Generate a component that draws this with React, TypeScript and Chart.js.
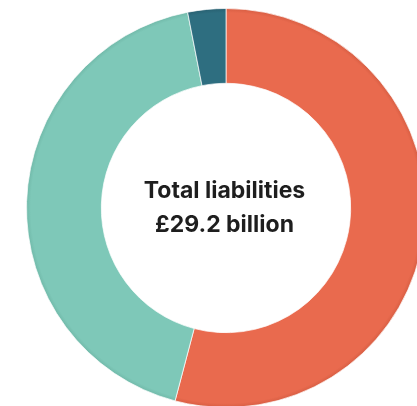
import React, { useEffect, useRef } from "react";
import { Chart, registerables } from "chart.js";

Chart.register(...registerables);

const categories = ["Category A", "Category B", "Category C"];
const values = [15.8, 12.5, 0.9];
const colors = ["#E96A4E", "#7EC8B8", "#2E6E80"];
const shadeColors = ["#D65D42", "#70B8A8", "#285F70"];
const centerLines = ["Total liabilities", "£29.2 billion"];

const centerText = {
  id: "centerText",
  afterDraw(chart: any) {
    const meta = chart.getDatasetMeta(0);
    const arc = meta.data[0];
    if (!arc) return;
    const { x, y } = arc;
    const ctx = chart.ctx;
    ctx.save();
    ctx.fillStyle = "#1E1E1E";
    ctx.font = "bold 23px Inter, 'Liberation Sans', Arial, sans-serif";
    ctx.textAlign = "center";
    ctx.textBaseline = "alphabetic";
    ctx.fillText(centerLines[0], x - 1.5, y - 10);
    ctx.fillText(centerLines[1], x - 1.5, y + 24);
    ctx.restore();
  },
};

export default function App() {
  const ref = useRef<HTMLCanvasElement>(null);
  useEffect(() => {
    if (!ref.current) return;
    const chart = new Chart(ref.current, {
      type: "doughnut",
      data: {
        labels: categories,
        datasets: [
          {
            data: values,
            backgroundColor: (c: any) => {
              const i = c.dataIndex;
              const chartArea = c.chart.chartArea;
              if (!chartArea) return colors[i];
              const cx = (chartArea.left + chartArea.right) / 2;
              const cy = (chartArea.top + chartArea.bottom) / 2;
              const r = Math.min(chartArea.right - chartArea.left, chartArea.bottom - chartArea.top) / 2;
              const g = c.chart.ctx.createRadialGradient(cx, cy, r * 0.6, cx, cy, r);
              g.addColorStop(0, colors[i]);
              g.addColorStop(0.94, colors[i]);
              g.addColorStop(1, shadeColors[i]);
              return g;
            },
            borderColor: "rgba(255,255,255,0.7)",
            borderWidth: 1,
          },
        ],
      },
      options: {
        animation: false,
        responsive: false,
        cutout: "62.5%",
        layout: { padding: 0 },
        plugins: {
          legend: { display: false },
          tooltip: { enabled: false },
        },
      },
      plugins: [centerText],
    });
    return () => chart.destroy();
  }, []);
  return (
    <div style={{ position: "fixed", left: 0, top: 0, width: 417, height: 406, overflow: "hidden" }}>
      <canvas
        ref={ref}
        width={400}
        height={400}
        style={{ position: "absolute", left: 26, top: 8, display: "block" }}
      />
    </div>
  );
}
